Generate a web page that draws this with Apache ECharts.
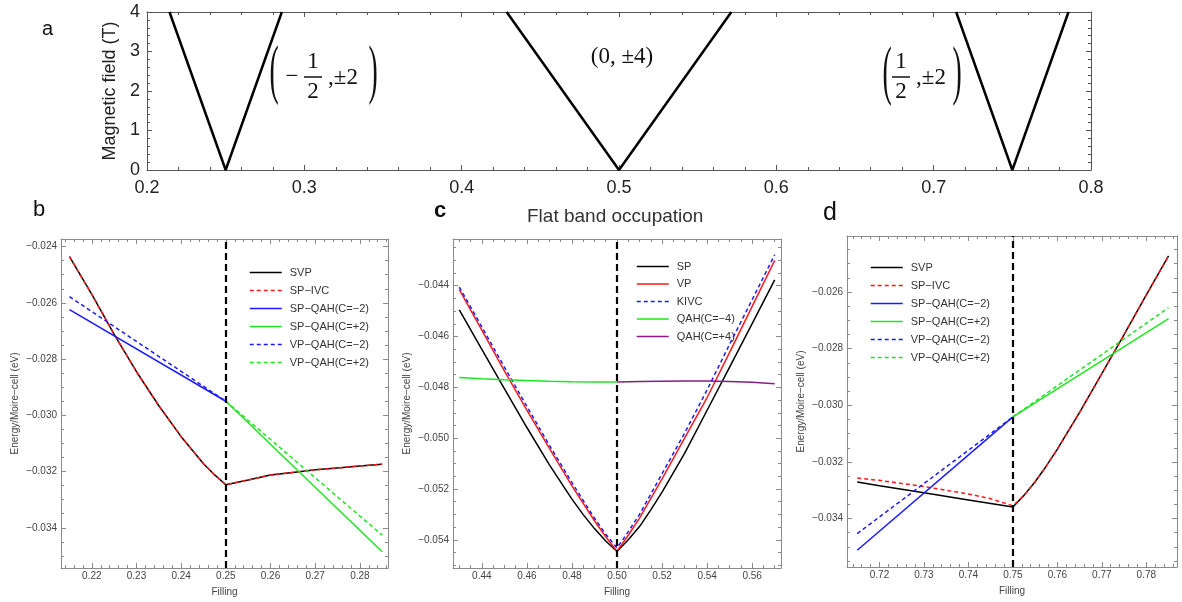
<!DOCTYPE html>
<html>
<head>
<meta charset="utf-8">
<script src="https://cdn.jsdelivr.net/npm/echarts@6/dist/echarts.min.js"></script>
<style>html,body{margin:0;padding:0;background:#fff}#main{width:1182px;height:602px}</style>
</head>
<body>
<div id="main"></div>
<script>
var myChart = echarts.init(document.getElementById('main'));
var FONT = 'Liberation Sans, Arial, sans-serif';
var MATH = 'Liberation Serif, DejaVu Serif, serif';

// a: magnetic field fan, V shapes
var aMinus = [[0.2143, 4], [0.25, 0], [0.2857, 4]];
var aZero = [[0.4286, 4], [0.5, 0], [0.5714, 4]];
var aPlus = [[0.7143, 4], [0.75, 0], [0.7857, 4]];
var aXTicks = [0.2, 0.3, 0.4, 0.5, 0.6, 0.7, 0.8];
var aYTicks = [0, 1, 2, 3, 4];

// b: filling around 1/4
var bSVP = [[0.215, -0.02436], [0.22, -0.0257], [0.225, -0.02712], [0.23, -0.02845], [0.235, -0.02966], [0.24, -0.03076], [0.245, -0.03172], [0.2475, -0.03212], [0.25, -0.03247], [0.255, -0.0323], [0.26, -0.03212], [0.265, -0.03203], [0.27, -0.03194], [0.275, -0.03187], [0.28, -0.0318], [0.285, -0.03174]];
var bSPIVC = [[0.215, -0.02436], [0.22, -0.0257], [0.225, -0.02712], [0.23, -0.02845], [0.235, -0.02966], [0.24, -0.03076], [0.245, -0.03172], [0.2475, -0.03212], [0.25, -0.03247], [0.255, -0.0323], [0.26, -0.03212], [0.265, -0.03203], [0.27, -0.03194], [0.275, -0.03187], [0.28, -0.0318], [0.285, -0.03174]];
var bSPQAHm = [[0.215, -0.02624], [0.25, -0.0295]];
var bSPQAHp = [[0.25, -0.0295], [0.285, -0.03485]];
var bVPQAHm = [[0.215, -0.02578], [0.25, -0.0295]];
var bVPQAHp = [[0.25, -0.0295], [0.285, -0.03426]];
var bXTicks = [0.22, 0.23, 0.24, 0.25, 0.26, 0.27, 0.28];
var bYTicks = [-0.034, -0.032, -0.030, -0.028, -0.026, -0.024];

// c: flat band occupation around 1/2
var cSP = [[0.43, -0.04495], [0.44, -0.0465], [0.45, -0.04805], [0.46, -0.04958], [0.47, -0.05105], [0.48, -0.0524], [0.485, -0.05301], [0.49, -0.05356], [0.495, -0.05405], [0.5, -0.05446], [0.505, -0.054], [0.51, -0.05348], [0.515, -0.05282], [0.52, -0.05212], [0.53, -0.0506], [0.54, -0.0489], [0.55, -0.0472], [0.56, -0.04549], [0.57, -0.04377]];
var cVP = [[0.43, -0.04415], [0.44, -0.04575], [0.45, -0.04735], [0.46, -0.0489], [0.47, -0.0504], [0.48, -0.05188], [0.49, -0.05325], [0.495, -0.05388], [0.5, -0.05445], [0.505, -0.05382], [0.51, -0.05315], [0.52, -0.0516], [0.53, -0.05], [0.54, -0.0484], [0.55, -0.04662], [0.56, -0.04481], [0.57, -0.043]];
var cKIVC = [[0.43, -0.04405], [0.44, -0.04562], [0.45, -0.0472], [0.46, -0.04875], [0.47, -0.05028], [0.48, -0.05175], [0.49, -0.05315], [0.495, -0.05378], [0.5, -0.05432], [0.505, -0.05368], [0.51, -0.053], [0.52, -0.0514], [0.53, -0.0498], [0.54, -0.0481], [0.55, -0.0463], [0.56, -0.04455], [0.57, -0.04278]];
var cQAHm = [[0.43, -0.04761], [0.44, -0.04766], [0.45, -0.0477], [0.46, -0.04773], [0.47, -0.04776], [0.48, -0.04778], [0.49, -0.04779], [0.5, -0.04779]];
var cQAHp = [[0.5, -0.04779], [0.51, -0.04777], [0.52, -0.04776], [0.53, -0.04775], [0.54, -0.04775], [0.55, -0.04777], [0.56, -0.0478], [0.57, -0.04786]];
var cXTicks = [0.44, 0.46, 0.48, 0.50, 0.52, 0.54, 0.56];
var cYTicks = [-0.054, -0.052, -0.050, -0.048, -0.046, -0.044];

// d: filling around 3/4
var dSVP = [[0.715, -0.03271], [0.72, -0.03284], [0.73, -0.03309], [0.74, -0.03334], [0.75, -0.03359], [0.7525, -0.03318], [0.755, -0.0327], [0.7575, -0.03215], [0.76, -0.03155], [0.765, -0.03025], [0.77, -0.02888], [0.775, -0.0275], [0.78, -0.0261], [0.785, -0.02472]];
var dSPIVC = [[0.715, -0.03257], [0.72, -0.03265], [0.73, -0.03287], [0.74, -0.03313], [0.745, -0.0333], [0.75, -0.03355], [0.7525, -0.03318], [0.755, -0.0327], [0.7575, -0.03215], [0.76, -0.03155], [0.765, -0.03025], [0.77, -0.02888], [0.775, -0.0275], [0.78, -0.0261], [0.785, -0.02472]];
var dSPQAHm = [[0.715, -0.03512], [0.75, -0.03041]];
var dSPQAHp = [[0.75, -0.03041], [0.785, -0.02694]];
var dVPQAHm = [[0.715, -0.03453], [0.75, -0.03041]];
var dVPQAHp = [[0.75, -0.03041], [0.785, -0.02655]];
var dXTicks = [0.72, 0.73, 0.74, 0.75, 0.76, 0.77, 0.78];
var dYTicks = [-0.034, -0.032, -0.030, -0.028, -0.026];

function steps(a, b, step) {
    var out = [];
    var n = Math.round((b - a) / step);
    for (var i = 0; i <= n; i++) out.push(+(a + i * step).toFixed(6));
    return out;
}

function fmtE(v) { return '\u2212' + Math.abs(v).toFixed(3); }

// four axes per side: main + minor ticks, near side (labels) and far side (no labels)
function frameAxes(kind, gi, min, max, majors, minors, o) {
    var pos = kind == 'x' ? ['bottom', 'top'] : ['left', 'right'];
    var list = [];
    for (var s = 0; s < 2; s++) {
        for (var m = 0; m < 2; m++) {
            var major = m == 0;
            var ax = {
                type: 'value', gridIndex: gi, position: pos[s], min: min, max: max,
                axisLine: {show: major, onZero: false, lineStyle: {color: o.frame, width: 1}},
                axisTick: {show: true, inside: true, length: major ? o.tickLen : o.minorLen, customValues: major ? majors : minors, lineStyle: {color: o.frame, width: 1}},
                axisLabel: {show: s == 0 && major, customValues: majors, formatter: o.fmt, color: o.labelColor, fontSize: o.fontSize, fontFamily: FONT, margin: o.margin},
                splitLine: {show: false}
            };
            if (s == 0 && major && o.name) {
                ax.name = o.name;
                ax.nameLocation = 'middle';
                ax.nameGap = o.nameGap;
                ax.nameTextStyle = {color: o.labelColor, fontSize: o.nameSize, fontFamily: FONT};
            }
            list.push(ax);
        }
    }
    return list;
}

var smallX = function (v) { return v.toFixed(2); };
var pOpt = {frame: '#8a8a8a', tickLen: 5, minorLen: 3, labelColor: '#444', fontSize: 10, margin: 4};

function ext(base, more) {
    var r = {};
    for (var k in base) r[k] = base[k];
    for (var k2 in more) r[k2] = more[k2];
    return r;
}

var xAxes = [].concat(
    frameAxes('x', 0, 0.2, 0.8, aXTicks, steps(0.2, 0.8, 0.02), {frame: '#555', tickLen: 5, minorLen: 3, labelColor: '#222', fontSize: 18, margin: 9, fmt: function (v) { return v.toFixed(1); }}),
    frameAxes('x', 1, 0.2131, 0.2863, bXTicks, steps(0.214, 0.286, 0.002), ext(pOpt, {fmt: smallX, margin: 3, name: 'Filling', nameGap: 19, nameSize: 10})),
    frameAxes('x', 2, 0.4272, 0.5728, cXTicks, steps(0.43, 0.57, 0.005), ext(pOpt, {fmt: smallX, margin: 3, name: 'Filling', nameGap: 19, nameSize: 10})),
    frameAxes('x', 3, 0.7127, 0.7869, dXTicks, steps(0.714, 0.786, 0.002), ext(pOpt, {fmt: smallX, margin: 3, name: 'Filling', nameGap: 19, nameSize: 10}))
);
var yAxes = [].concat(
    frameAxes('y', 0, 0, 4, aYTicks, steps(0, 4, 0.2), {frame: '#555', tickLen: 5, minorLen: 3, labelColor: '#222', fontSize: 18, margin: 7, fmt: function (v) { return v.toFixed(0); }, name: 'Magnetic field (T)', nameGap: 16, nameSize: 18}),
    frameAxes('y', 1, -0.03543, -0.02373, bYTicks, steps(-0.0355, -0.024, 0.0005), ext(pOpt, {fmt: fmtE, name: 'Energy/Moire\u2212cell (eV)', nameGap: 41, nameSize: 10})),
    frameAxes('y', 2, -0.05511, -0.04216, cYTicks, steps(-0.055, -0.0425, 0.0005), ext(pOpt, {fmt: fmtE, name: 'Energy/Moire\u2212cell (eV)', nameGap: 41, nameSize: 10})),
    frameAxes('y', 3, -0.03571, -0.02402, dYTicks, steps(-0.0355, -0.0245, 0.0005), ext(pOpt, {fmt: fmtE, name: 'Energy/Moire\u2212cell (eV)', nameGap: 41, nameSize: 10}))
);

function line(name, data, gi, color, dashed, width) {
    return {
        name: name, type: 'line', data: data, xAxisIndex: gi * 4, yAxisIndex: gi * 4,
        symbol: 'none', showSymbol: false, animation: false, silent: true,
        lineStyle: {color: color, width: width || 1.5, type: dashed ? [4, 3] : 'solid'},
        itemStyle: {color: color}
    };
}

function vline(gi, x) {
    return {
        type: 'line', data: [], xAxisIndex: gi * 4, yAxisIndex: gi * 4, silent: true, animation: false,
        markLine: {silent: true, symbol: ['none', 'none'], label: {show: false}, animation: false,
            lineStyle: {color: '#000', width: 2.2, type: [7, 4]}, data: [{xAxis: x}]}
    };
}

var RED = '#ff1a1a', BLUE = '#1a1aff', GREEN = '#1ee61e', PURPLE = '#8a1a8a';

var series = [
    line('aMinus', aMinus, 0, '#000', false, 2.5),
    line('aZero', aZero, 0, '#000', false, 2.5),
    line('aPlus', aPlus, 0, '#000', false, 2.5),

    line('SVP', bSVP, 1, '#000', false),
    line('SP\u2212IVC', bSPIVC, 1, RED, true),
    line('SP\u2212QAH(C=\u22122)', bSPQAHm, 1, BLUE, false),
    line('SP\u2212QAH(C=+2)', bSPQAHp, 1, GREEN, false),
    line('VP\u2212QAH(C=\u22122)', bVPQAHm, 1, BLUE, true),
    line('VP\u2212QAH(C=+2)', bVPQAHp, 1, GREEN, true),
    vline(1, 0.25),

    line('SP', cSP, 2, '#000', false),
    line('VP', cVP, 2, RED, false),
    line('KIVC', cKIVC, 2, BLUE, true),
    line('QAH(C=\u22124)', cQAHm, 2, GREEN, false),
    line('QAH(C=+4)', cQAHp, 2, PURPLE, false),
    vline(2, 0.5),

    line('SVP', dSVP, 3, '#000', false),
    line('SP\u2212IVC', dSPIVC, 3, RED, true),
    line('SP\u2212QAH(C=\u22122)', dSPQAHm, 3, BLUE, false),
    line('SP\u2212QAH(C=+2)', dSPQAHp, 3, GREEN, false),
    line('VP\u2212QAH(C=\u22122)', dVPQAHm, 3, BLUE, true),
    line('VP\u2212QAH(C=+2)', dVPQAHp, 3, GREEN, true),
    vline(3, 0.75)
];

var bdNames = ['SVP', 'SP\u2212IVC', 'SP\u2212QAH(C=\u22122)', 'SP\u2212QAH(C=+2)', 'VP\u2212QAH(C=\u22122)', 'VP\u2212QAH(C=+2)'];
var cNames = ['SP', 'VP', 'KIVC', 'QAH(C=\u22124)', 'QAH(C=+4)'];

function legend(names, left, top, gap) {
    return {
        data: names, left: left, top: top, orient: 'vertical', itemWidth: 32, itemHeight: 12, itemGap: gap,
        padding: 0, selectedMode: false,
        itemStyle: {opacity: 0},
        lineStyle: {width: 1.5},
        textStyle: {color: '#333', fontSize: 11, fontFamily: FONT, padding: [0, 0, 0, 3]}
    };
}

function mtext(t, x, y, size, sx) {
    return {type: 'text', x: x, y: y, scaleX: sx || 1, silent: true,
        style: {text: t, fontSize: size, fontFamily: MATH, fill: '#111', textAlign: 'center', textVerticalAlign: 'middle', align: 'center', verticalAlign: 'middle'}};
}

myChart.setOption({
    animation: false,
    backgroundColor: '#fff',
    textStyle: {fontFamily: FONT},
    title: [
        {text: 'a', left: 42, top: 19, padding: 0, textStyle: {fontSize: 20, fontWeight: 'normal', color: '#111', fontFamily: FONT}},
        {text: 'b', left: 33, top: 199, padding: 0, textStyle: {fontSize: 22, fontWeight: 'normal', color: '#111', fontFamily: FONT}},
        {text: 'c', left: 434, top: 200, padding: 0, textStyle: {fontSize: 22, fontWeight: 'bold', color: '#111', fontFamily: FONT}},
        {text: 'Flat band occupation', left: 527, top: 207, padding: 0, textStyle: {fontSize: 19, fontWeight: 'normal', color: '#333', fontFamily: FONT}},
        {text: 'd', left: 823, top: 201, padding: 0, textStyle: {fontSize: 25, fontWeight: 'normal', color: '#111', fontFamily: FONT}}
    ],
    grid: [
        {left: 147, top: 12, width: 944, height: 158},
        {left: 61, top: 239, width: 327, height: 329},
        {left: 453, top: 239, width: 328, height: 329},
        {left: 847, top: 236, width: 330, height: 331}
    ],
    xAxis: xAxes,
    yAxis: yAxes,
    legend: [
        legend(bdNames.slice(), 249, 267, 7),
        legend(cNames, 636, 261, 6.5),
        legend(bdNames.slice(), 870, 262, 7)
    ],
    graphic: [
        mtext('(', 274, 74, 66, 0.42),
        mtext('\u2212', 292, 77, 23),
        mtext('1', 313, 62, 23),
        {type: 'line', silent: true, shape: {x1: 304, y1: 77, x2: 322, y2: 77}, style: {stroke: '#111', lineWidth: 1.5}},
        mtext('2', 313, 92, 23),
        mtext(',\u00b12', 343, 78, 23),
        mtext(')', 373, 74, 66, 0.42),

        mtext('(0, \u00b14)', 622, 57, 23),

        mtext('(', 887, 75, 66, 0.42),
        mtext('1', 901, 62, 23),
        {type: 'line', silent: true, shape: {x1: 892, y1: 77, x2: 910, y2: 77}, style: {stroke: '#111', lineWidth: 1.5}},
        mtext('2', 901, 92, 23),
        mtext(',\u00b12', 931, 78, 23),
        mtext(')', 957, 75, 66, 0.42)
    ],
    series: series
});
window.onresize = myChart.resize;
</script>
</body>
</html>
